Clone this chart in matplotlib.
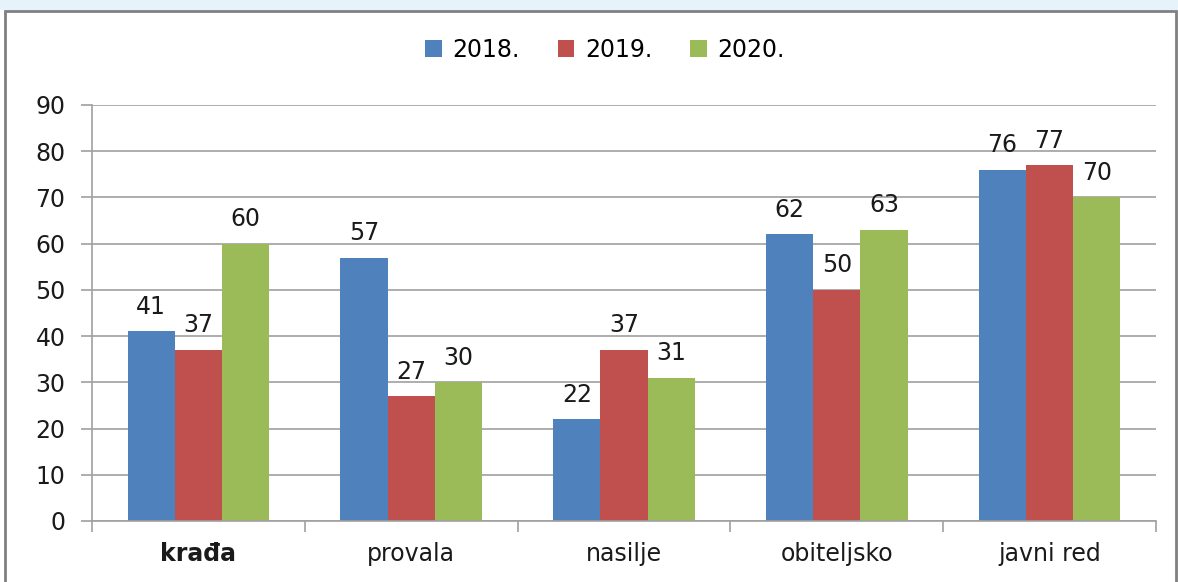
import matplotlib
matplotlib.use("Agg")
import matplotlib.pyplot as plt
from matplotlib.patches import Patch, Rectangle
import numpy as np

categories = ["krađa", "provala", "nasilje", "obiteljsko", "javni red"]
series_names = ["2018.", "2019.", "2020."]
v2018 = [41, 57, 22, 62, 76]
v2019 = [37, 27, 37, 50, 77]
v2020 = [60, 30, 31, 63, 70]
yticks = [0, 10, 20, 30, 40, 50, 60, 70, 80, 90]

colors = ["#4F81BD", "#C0504D", "#9BBB59"]
values = [v2018, v2019, v2020]

plt.rcParams['font.family'] = ['DejaVu Sans']
FS = 17

fig = plt.figure(figsize=(11.78, 5.82), dpi=100, facecolor="white")
# top strip
fig.patches.append(Rectangle((0, 1 - 10/582), 1, 10/582, transform=fig.transFigure,
                             facecolor="#e6f3fa", edgecolor="none", zorder=-2))
# border frame
fig.patches.append(Rectangle((5/1178, -0.01), (1176-5)/1178, (582-11)/582 + 0.01, transform=fig.transFigure,
                             facecolor="none", edgecolor="#808080", linewidth=2, zorder=-1))

ax = fig.add_axes([92/1178, 1 - 521/582, (1156-92)/1178, (521-105)/582])
ax.set_facecolor("none")

x = np.arange(len(categories))
w = 0.222
for i, (vals, c, name) in enumerate(zip(values, colors, series_names)):
    pos = x + (i - 1) * w
    ax.bar(pos, vals, width=w, color=c, label=name, zorder=3)
    for p, v in zip(pos, vals):
        ax.annotate(str(v), (p, v), xytext=(0, 9), textcoords="offset points",
                    ha="center", va="bottom", fontsize=FS, color="#1a1a1a")

ax.set_xlim(-0.5, len(categories) - 0.5)
ax.set_ylim(0, 90)
ax.set_yticks(yticks)
ax.set_yticklabels([str(t) for t in yticks], fontsize=FS, color="#1a1a1a")
ax.yaxis.grid(True, color="#a0a0a0", linewidth=1.2, zorder=0)
ax.tick_params(axis="y", length=8, color="#a0a0a0", width=1.2, pad=11)

ax.set_xticks(x)
ax.set_xticklabels(categories, fontsize=FS, color="#1a1a1a")
ax.tick_params(axis="x", length=0, pad=15)
ax.set_xticks(np.arange(len(categories) + 1) - 0.5, minor=True)
ax.tick_params(axis="x", which="minor", length=8, color="#a0a0a0", width=1.2)
lbls = ax.get_xticklabels()
lbls[0].set_fontweight("bold")

for s in ["top", "right"]:
    ax.spines[s].set_visible(False)
for s in ["left", "bottom"]:
    ax.spines[s].set_color("#a0a0a0")
    ax.spines[s].set_linewidth(1.2)
ax.spines["bottom"].set_zorder(4)

handles = [Patch(facecolor=c, edgecolor="none", label=n) for c, n in zip(colors, series_names)]
fig.legend(handles=handles, loc="center", bbox_to_anchor=(605/1178, 1 - 50/582), ncol=3,
           frameon=False, fontsize=FS, handlelength=0.7, handleheight=0.7,
           handletextpad=0.45, columnspacing=1.6)

fig.savefig("out.png", dpi=100)
